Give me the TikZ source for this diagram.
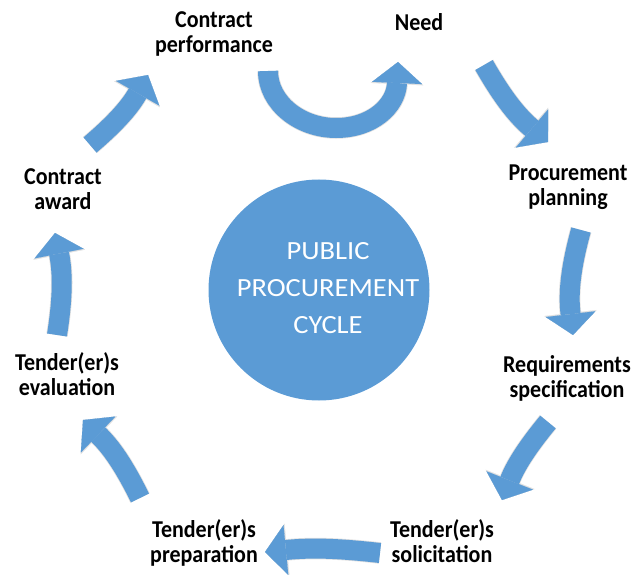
\documentclass[tikz,border=0pt]{standalone}
\usepackage{fontspec}
\usepackage{graphicx}
\setmainfont{Carlito}
\usetikzlibrary{arrows.meta}
\definecolor{pblue}{HTML}{5B9BD5}
\newcommand{\vstr}[1]{\scalebox{1}[1.1]{#1}}
\newcommand{\cstr}[1]{\scalebox{1}[0.92]{#1}}
\tikzset{
  blk/.style={line width=20pt, draw=pblue, -{Triangle[width=0pt 2.5, length=0pt 1.05, line width=0.1pt, fill=pblue]}},
  halo/.style={line width=21.5pt, draw=black!12, -{Triangle[width=0pt 2.45, length=0pt 1.03, line width=0.1pt, fill=black!12]}},
  lbl/.style={font=\fontsize{22}{25}\selectfont\bfseries, align=center, anchor=base, text=black, inner sep=0pt},
}
\begin{document}
\begin{tikzpicture}[x=1pt,y=-1pt]
\useasboundingbox (0,0) rectangle (635,575);
% centre
\node[circle, fill=pblue, minimum size=221pt, inner sep=0pt] (cyc) at (319,290) {};
\node[text=white, align=center, inner sep=0pt, anchor=base,
      font=\fontsize{28.5}{37}\selectfont] (cyctxt) at (328,333) {\cstr{PUBLIC}\\\cstr{PROCUREMENT}\\\cstr{CYCLE}};
% labels (anchor = baseline of last line)
\node[lbl] (perf)  at (214,53)  {\vstr{Contract}\\\vstr{performance}};
\node[lbl] (need)  at (419,31)  {\vstr{Need}};
\node[lbl] (plan)  at (568,206) {\vstr{Procurement}\\\vstr{planning}};
\node[lbl] (spec)  at (567,397) {\vstr{Requirements}\\\vstr{specification}};
\node[lbl] (solic) at (442,562) {\vstr{Tender(er)s}\\\vstr{solicitation}};
\node[lbl] (prep)  at (204,562) {\vstr{Tender(er)s}\\\vstr{preparation}};
\node[lbl] (eval)  at (67,395)  {\vstr{Tender(er)s}\\\vstr{evaluation}};
\node[lbl] (award) at (63,209)  {\vstr{Contract}\\\vstr{award}};
% arrow end points
\coordinate (a1) at (484,65);  \coordinate (b1) at (548,142);
\coordinate (a2) at (581,230); \coordinate (b2) at (573,335);
\coordinate (a3) at (548,422); \coordinate (b3) at (502,500);
\coordinate (a4) at (380,553); \coordinate (b4) at (265,552);
\coordinate (a5) at (140,498); \coordinate (b5) at (83,420);
\coordinate (a6) at (57,335);  \coordinate (b6) at (55,233);
\coordinate (a7) at (90,145);  \coordinate (b7) at (148,75);
\coordinate (a8) at (268,71);  \coordinate (m8) at (336,128); \coordinate (b8) at (398,62);
\foreach \s in {halo,blk}{
  \draw[\s] (a1) to[bend right=10] (b1);
  \draw[\s] (a2) to[bend right=11] (b2);
  \draw[\s] (a3) to[bend right=9] (b3);
  \draw[\s] (a4) to[bend right=6] (b4);
  \draw[\s] (a5) to[bend right=10] (b5);
  \draw[\s] (a6) to[bend right=10] (b6);
  \draw[\s] (a7) to[bend right=10] (b7);
  \draw[\s] (a8) .. controls (268,103) and (300,128) .. (m8)
                 .. controls (372,128) and (396,106) .. (b8);
}
\end{tikzpicture}
\end{document}
